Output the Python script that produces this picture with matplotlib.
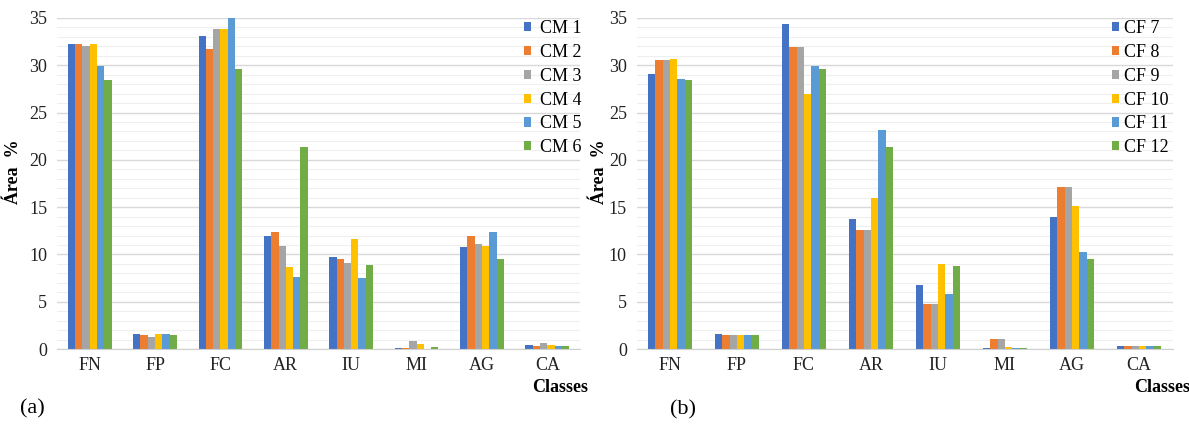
import numpy as np
import matplotlib
matplotlib.use('Agg')
import matplotlib.pyplot as plt
from matplotlib.ticker import MultipleLocator

plt.rcParams['font.family'] = ['Liberation Serif', 'DejaVu Serif']

classes = ['FN', 'FP', 'FC', 'AR', 'IU', 'MI', 'AG', 'CA']

# panel (a)
cm_names = ['CM 1', 'CM 2', 'CM 3', 'CM 4', 'CM 5', 'CM 6']
cm1 = [32.2, 1.55, 33.05, 11.9, 9.7, 0.1, 10.8, 0.38]
cm2 = [32.2, 1.5, 31.7, 12.4, 9.55, 0.07, 11.9, 0.35]
cm3 = [32.0, 1.3, 33.85, 10.9, 9.1, 0.8, 11.05, 0.62]
cm4 = [32.3, 1.55, 33.85, 8.65, 11.6, 0.58, 10.85, 0.38]
cm5 = [29.95, 1.55, 35.0, 7.65, 7.55, 0.03, 12.35, 0.36]
cm6 = [28.4, 1.45, 29.6, 21.4, 8.85, 0.17, 9.5, 0.3]

# panel (b)
cf_names = ['CF 7', 'CF 8', 'CF 9', 'CF 10', 'CF 11', 'CF 12']
cf7 = [29.05, 1.55, 34.35, 13.7, 6.75, 0.1, 13.95, 0.3]
cf8 = [30.55, 1.45, 31.95, 12.55, 4.75, 1.05, 17.1, 0.3]
cf9 = [30.55, 1.45, 31.95, 12.55, 4.75, 1.05, 17.1, 0.3]
cf10 = [30.65, 1.45, 26.95, 16.0, 9.0, 0.25, 15.1, 0.3]
cf11 = [28.6, 1.45, 29.95, 23.2, 5.8, 0.1, 10.3, 0.3]
cf12 = [28.4, 1.45, 29.65, 21.4, 8.8, 0.1, 9.5, 0.3]

colors = ['#4472C4', '#ED7D31', '#A5A5A5', '#FFC000', '#5B9BD5', '#70AD47']

W, H = 1189, 424
fig = plt.figure(figsize=(W / 100, H / 100), dpi=100)


def draw(ax, series, names, legend_x, textpad):
    x = np.arange(len(classes))
    w = 0.1115
    for i, (vals, name) in enumerate(zip(series, names)):
        ax.bar(x + (i - 2.5) * w, vals, width=w, color=colors[i], label=name, zorder=3)
    ax.set_xlim(-0.5, len(classes) - 0.5)
    ax.set_ylim(0, 35)
    ax.yaxis.set_major_locator(MultipleLocator(5))
    ax.yaxis.set_minor_locator(MultipleLocator(1))
    ax.grid(axis='y', which='major', color='#D9D9D9', lw=1.0, zorder=1)
    ax.grid(axis='y', which='minor', color='#EFEFEF', lw=0.8, zorder=0)
    for s in ['top', 'right', 'left']:
        ax.spines[s].set_visible(False)
    ax.spines['bottom'].set_color('#D0D0D0')
    ax.spines['bottom'].set_zorder(4)
    ax.set_xticks(x)
    ax.set_xticklabels(classes)
    ax.tick_params(axis='both', which='both', length=0, labelsize=13, colors='#222222')
    ax.tick_params(axis='y', pad=7)
    ax.tick_params(axis='x', pad=6)
    ax.set_ylabel('Área  %', fontsize=13, fontweight='bold')
    leg = ax.legend(loc='upper left', bbox_to_anchor=(legend_x / W, 1 - 20 / H),
                    bbox_transform=fig.transFigure, frameon=False, fontsize=13,
                    handlelength=0.4, handleheight=0.4, handletextpad=textpad,
                    labelspacing=0.38, borderpad=0, borderaxespad=0)
    return leg


ax1 = fig.add_axes([57 / W, 75 / H, 523 / W, 331 / H])
draw(ax1, [cm1, cm2, cm3, cm4, cm5, cm6], cm_names, 524, 0.5)
ax1.yaxis.set_label_coords(-0.066, 0.535)

ax2 = fig.add_axes([636.5 / W, 75 / H, 536 / W, 331 / H])
draw(ax2, [cf7, cf8, cf9, cf10, cf11, cf12], cf_names, 1112, 0.25)
ax2.yaxis.set_label_coords(-0.054, 0.535)

fig.text(560 / W, 1 - 387 / H, 'Classes', ha='center', va='center',
         fontsize=13, fontweight='bold')
fig.text(1162 / W, 1 - 387 / H, 'Classes', ha='center', va='center',
         fontsize=13, fontweight='bold')
fig.text(20 / W, 1 - 409 / H, '(a)', ha='left', va='center', fontsize=16)
fig.text(670 / W, 1 - 410 / H, '(b)', ha='left', va='center', fontsize=16)

fig.savefig('out.png', dpi=100)
